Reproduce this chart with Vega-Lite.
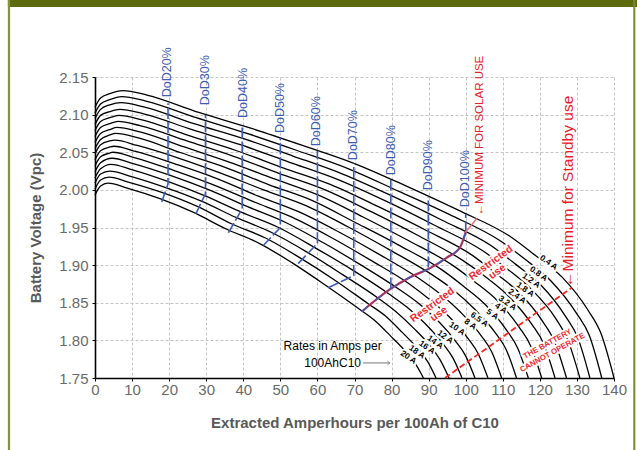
{
  "$schema": "https://vega.github.io/schema/vega-lite/v6.json",
  "width": 519,
  "height": 301,
  "autosize": "none",
  "padding": {"left": 95, "top": 77, "right": 23, "bottom": 72},
  "background": "white",
  "config": {"view": {"stroke": null}, "font": "Liberation Sans"},
  "datasets": {
    "frame": [
      {"part":"top","x":-23.5,"x2":146.2,"v":2.2523,"v2":2.243},
      {"part":"left","x":-23.5,"x2":-22.9,"v":2.2523,"v2":1.6543},
      {"part":"right","x":145.2,"x2":145.75,"v":2.2523,"v2":1.6543}
    ],
    "curves": [
      {"c":"0.4","x":0,"v":2.110},{"c":"0.4","x":1.5,"v":2.122},{"c":"0.4","x":4,"v":2.128},{"c":"0.4","x":7.5,"v":2.132},{"c":"0.4","x":14,"v":2.126},{"c":"0.4","x":28,"v":2.103},{"c":"0.4","x":42,"v":2.082},{"c":"0.4","x":56,"v":2.059},{"c":"0.4","x":70,"v":2.035},{"c":"0.4","x":84,"v":2.005},{"c":"0.4","x":98,"v":1.973},{"c":"0.4","x":112,"v":1.938},{"c":"0.4","x":119,"v":1.912},{"c":"0.4","x":126,"v":1.884},{"c":"0.4","x":133,"v":1.840},{"c":"0.4","x":136.5,"v":1.809},{"c":"0.4","x":140,"v":1.75},
      {"c":"0.8","x":0,"v":2.102},{"c":"0.8","x":1.5,"v":2.114},{"c":"0.8","x":4,"v":2.120},{"c":"0.8","x":7.2,"v":2.124},{"c":"0.8","x":13.7,"v":2.118},{"c":"0.8","x":27.3,"v":2.096},{"c":"0.8","x":41,"v":2.075},{"c":"0.8","x":54.7,"v":2.052},{"c":"0.8","x":68.4,"v":2.028},{"c":"0.8","x":82,"v":1.998},{"c":"0.8","x":95.7,"v":1.967},{"c":"0.8","x":109.4,"v":1.932},{"c":"0.8","x":116.2,"v":1.907},{"c":"0.8","x":123,"v":1.879},{"c":"0.8","x":129.9,"v":1.836},{"c":"0.8","x":133.3,"v":1.807},{"c":"0.8","x":136.7,"v":1.75},
      {"c":"1.2","x":0,"v":2.095},{"c":"1.2","x":1.5,"v":2.107},{"c":"1.2","x":4,"v":2.113},{"c":"1.2","x":7,"v":2.116},{"c":"1.2","x":13.4,"v":2.110},{"c":"1.2","x":26.7,"v":2.088},{"c":"1.2","x":40.1,"v":2.068},{"c":"1.2","x":53.4,"v":2.045},{"c":"1.2","x":66.8,"v":2.021},{"c":"1.2","x":80.1,"v":1.992},{"c":"1.2","x":93.5,"v":1.960},{"c":"1.2","x":106.8,"v":1.926},{"c":"1.2","x":113.5,"v":1.901},{"c":"1.2","x":120.2,"v":1.874},{"c":"1.2","x":126.8,"v":1.833},{"c":"1.2","x":130.2,"v":1.804},{"c":"1.2","x":133.5,"v":1.75},
      {"c":"1.8","x":0,"v":2.087},{"c":"1.8","x":1.5,"v":2.099},{"c":"1.8","x":4,"v":2.104},{"c":"1.8","x":6.7,"v":2.107},{"c":"1.8","x":13.1,"v":2.101},{"c":"1.8","x":26.2,"v":2.080},{"c":"1.8","x":39.2,"v":2.060},{"c":"1.8","x":52.3,"v":2.037},{"c":"1.8","x":65.4,"v":2.014},{"c":"1.8","x":78.5,"v":1.985},{"c":"1.8","x":91.6,"v":1.953},{"c":"1.8","x":104.6,"v":1.919},{"c":"1.8","x":111.2,"v":1.895},{"c":"1.8","x":117.7,"v":1.868},{"c":"1.8","x":124.3,"v":1.829},{"c":"1.8","x":127.5,"v":1.801},{"c":"1.8","x":130.8,"v":1.75},
      {"c":"2.4","x":0,"v":2.079},{"c":"2.4","x":1.5,"v":2.091},{"c":"2.4","x":4,"v":2.096},{"c":"2.4","x":6.4,"v":2.099},{"c":"2.4","x":12.7,"v":2.093},{"c":"2.4","x":25.4,"v":2.072},{"c":"2.4","x":38.2,"v":2.052},{"c":"2.4","x":50.9,"v":2.029},{"c":"2.4","x":63.6,"v":2.007},{"c":"2.4","x":76.3,"v":1.978},{"c":"2.4","x":89,"v":1.947},{"c":"2.4","x":101.8,"v":1.913},{"c":"2.4","x":108.1,"v":1.889},{"c":"2.4","x":114.5,"v":1.863},{"c":"2.4","x":120.8,"v":1.825},{"c":"2.4","x":124,"v":1.798},{"c":"2.4","x":127.2,"v":1.75},
      {"c":"3.2","x":0,"v":2.071},{"c":"3.2","x":1.5,"v":2.083},{"c":"3.2","x":4,"v":2.088},{"c":"3.2","x":6.2,"v":2.091},{"c":"3.2","x":12.4,"v":2.085},{"c":"3.2","x":24.8,"v":2.065},{"c":"3.2","x":37.2,"v":2.045},{"c":"3.2","x":49.6,"v":2.022},{"c":"3.2","x":62.1,"v":2.000},{"c":"3.2","x":74.5,"v":1.971},{"c":"3.2","x":86.9,"v":1.940},{"c":"3.2","x":99.3,"v":1.906},{"c":"3.2","x":105.5,"v":1.884},{"c":"3.2","x":111.7,"v":1.858},{"c":"3.2","x":117.9,"v":1.821},{"c":"3.2","x":121,"v":1.796},{"c":"3.2","x":124.1,"v":1.75},
      {"c":"4","x":0,"v":2.063},{"c":"4","x":1.5,"v":2.075},{"c":"4","x":4,"v":2.080},{"c":"4","x":5.9,"v":2.083},{"c":"4","x":12.1,"v":2.077},{"c":"4","x":24.1,"v":2.057},{"c":"4","x":36.2,"v":2.037},{"c":"4","x":48.2,"v":2.015},{"c":"4","x":60.3,"v":1.993},{"c":"4","x":72.3,"v":1.964},{"c":"4","x":84.4,"v":1.933},{"c":"4","x":96.4,"v":1.900},{"c":"4","x":102.4,"v":1.878},{"c":"4","x":108.5,"v":1.853},{"c":"4","x":114.5,"v":1.817},{"c":"4","x":117.5,"v":1.793},{"c":"4","x":120.5,"v":1.75},
      {"c":"5","x":0,"v":2.055},{"c":"5","x":1.5,"v":2.067},{"c":"5","x":4,"v":2.073},{"c":"5","x":5.6,"v":2.075},{"c":"5","x":11.7,"v":2.069},{"c":"5","x":23.4,"v":2.049},{"c":"5","x":35.1,"v":2.030},{"c":"5","x":46.8,"v":2.007},{"c":"5","x":58.5,"v":1.986},{"c":"5","x":70.1,"v":1.957},{"c":"5","x":81.8,"v":1.927},{"c":"5","x":93.5,"v":1.894},{"c":"5","x":99.4,"v":1.872},{"c":"5","x":105.2,"v":1.848},{"c":"5","x":111.1,"v":1.813},{"c":"5","x":114,"v":1.790},{"c":"5","x":116.9,"v":1.75},
      {"c":"6.5","x":0,"v":2.048},{"c":"6.5","x":1.5,"v":2.060},{"c":"6.5","x":4,"v":2.065},{"c":"6.5","x":5.4,"v":2.066},{"c":"6.5","x":11.4,"v":2.059},{"c":"6.5","x":22.7,"v":2.042},{"c":"6.5","x":34.1,"v":2.022},{"c":"6.5","x":45.5,"v":2.000},{"c":"6.5","x":56.9,"v":1.979},{"c":"6.5","x":68.2,"v":1.951},{"c":"6.5","x":79.6,"v":1.920},{"c":"6.5","x":91,"v":1.887},{"c":"6.5","x":96.7,"v":1.867},{"c":"6.5","x":102.3,"v":1.842},{"c":"6.5","x":108,"v":1.810},{"c":"6.5","x":110.9,"v":1.788},{"c":"6.5","x":113.7,"v":1.75},
      {"c":"8","x":0,"v":2.040},{"c":"8","x":1.5,"v":2.052},{"c":"8","x":4,"v":2.057},{"c":"8","x":5.1,"v":2.058},{"c":"8","x":11,"v":2.051},{"c":"8","x":21.9,"v":2.034},{"c":"8","x":32.9,"v":2.015},{"c":"8","x":43.9,"v":1.992},{"c":"8","x":54.9,"v":1.971},{"c":"8","x":65.8,"v":1.944},{"c":"8","x":76.8,"v":1.914},{"c":"8","x":87.8,"v":1.881},{"c":"8","x":93.3,"v":1.861},{"c":"8","x":98.7,"v":1.837},{"c":"8","x":104.2,"v":1.806},{"c":"8","x":107,"v":1.785},{"c":"8","x":109.7,"v":1.75},
      {"c":"10","x":0,"v":2.032},{"c":"10","x":1.5,"v":2.044},{"c":"10","x":4,"v":2.049},{"c":"10","x":4.8,"v":2.050},{"c":"10","x":10.6,"v":2.043},{"c":"10","x":21.2,"v":2.026},{"c":"10","x":31.8,"v":2.007},{"c":"10","x":42.4,"v":1.985},{"c":"10","x":53,"v":1.964},{"c":"10","x":63.6,"v":1.937},{"c":"10","x":74.2,"v":1.907},{"c":"10","x":84.8,"v":1.875},{"c":"10","x":90.1,"v":1.855},{"c":"10","x":95.4,"v":1.832},{"c":"10","x":100.7,"v":1.802},{"c":"10","x":103.4,"v":1.782},{"c":"10","x":106,"v":1.75},
      {"c":"12","x":0,"v":2.024},{"c":"12","x":1.5,"v":2.036},{"c":"12","x":4.6,"v":2.042},{"c":"12","x":10.3,"v":2.035},{"c":"12","x":20.5,"v":2.019},{"c":"12","x":30.8,"v":2.000},{"c":"12","x":41,"v":1.978},{"c":"12","x":51.3,"v":1.957},{"c":"12","x":61.5,"v":1.930},{"c":"12","x":71.8,"v":1.900},{"c":"12","x":82,"v":1.868},{"c":"12","x":87.1,"v":1.850},{"c":"12","x":92.3,"v":1.827},{"c":"12","x":97.4,"v":1.798},{"c":"12","x":99.9,"v":1.780},{"c":"12","x":102.5,"v":1.75},
      {"c":"14","x":0,"v":2.016},{"c":"14","x":1.5,"v":2.028},{"c":"14","x":4.3,"v":2.034},{"c":"14","x":9.9,"v":2.027},{"c":"14","x":19.8,"v":2.011},{"c":"14","x":29.7,"v":1.992},{"c":"14","x":39.6,"v":1.970},{"c":"14","x":49.5,"v":1.950},{"c":"14","x":59.4,"v":1.923},{"c":"14","x":69.3,"v":1.894},{"c":"14","x":79.2,"v":1.862},{"c":"14","x":84.2,"v":1.844},{"c":"14","x":89.1,"v":1.822},{"c":"14","x":94.1,"v":1.794},{"c":"14","x":96.5,"v":1.777},{"c":"14","x":99,"v":1.75},
      {"c":"16","x":0,"v":2.009},{"c":"16","x":1.5,"v":2.021},{"c":"16","x":4,"v":2.025},{"c":"16","x":9.6,"v":2.018},{"c":"16","x":19.1,"v":2.003},{"c":"16","x":28.7,"v":1.985},{"c":"16","x":38.2,"v":1.963},{"c":"16","x":47.8,"v":1.943},{"c":"16","x":57.3,"v":1.917},{"c":"16","x":66.9,"v":1.887},{"c":"16","x":76.4,"v":1.856},{"c":"16","x":81.2,"v":1.838},{"c":"16","x":86,"v":1.816},{"c":"16","x":90.7,"v":1.791},{"c":"16","x":93.1,"v":1.774},{"c":"16","x":95.5,"v":1.75},
      {"c":"18","x":0,"v":2.001},{"c":"18","x":1.5,"v":2.013},{"c":"18","x":3.8,"v":2.017},{"c":"18","x":9.2,"v":2.010},{"c":"18","x":18.4,"v":1.996},{"c":"18","x":27.6,"v":1.978},{"c":"18","x":36.8,"v":1.955},{"c":"18","x":46,"v":1.936},{"c":"18","x":55.2,"v":1.910},{"c":"18","x":64.4,"v":1.881},{"c":"18","x":73.6,"v":1.849},{"c":"18","x":78.2,"v":1.833},{"c":"18","x":82.8,"v":1.811},{"c":"18","x":87.4,"v":1.787},{"c":"18","x":89.7,"v":1.772},{"c":"18","x":92,"v":1.75},
      {"c":"20","x":0,"v":1.993},{"c":"20","x":1.5,"v":2.005},{"c":"20","x":3.5,"v":2.009},{"c":"20","x":8.9,"v":2.002},{"c":"20","x":17.7,"v":1.988},{"c":"20","x":26.6,"v":1.970},{"c":"20","x":35.4,"v":1.948},{"c":"20","x":44.3,"v":1.929},{"c":"20","x":53.2,"v":1.903},{"c":"20","x":62,"v":1.874},{"c":"20","x":70.9,"v":1.843},{"c":"20","x":75.3,"v":1.827},{"c":"20","x":79.7,"v":1.806},{"c":"20","x":84.2,"v":1.783},{"c":"20","x":86.4,"v":1.769},{"c":"20","x":88.6,"v":1.75}
    ],
    "dod": [
      {"d":"20","o":1,"x":18.0,"v":1.984},{"d":"20","o":2,"x":19.7,"v":2.008},{"d":"20","o":3,"x":19.7,"v":2.115},
      {"d":"30","o":1,"x":27.2,"v":1.968},{"d":"30","o":2,"x":29.8,"v":1.995},{"d":"30","o":3,"x":29.8,"v":2.100},
      {"d":"40","o":1,"x":36.0,"v":1.943},{"d":"40","o":2,"x":39.7,"v":1.975},{"d":"40","o":3,"x":39.7,"v":2.085},
      {"d":"50","o":1,"x":45.4,"v":1.926},{"d":"50","o":2,"x":50,"v":1.950},{"d":"50","o":3,"x":50,"v":2.069},
      {"d":"60","o":1,"x":54.8,"v":1.902},{"d":"60","o":2,"x":60,"v":1.929},{"d":"60","o":3,"x":60,"v":2.052},
      {"d":"70","o":1,"x":62.9,"v":1.870},{"d":"70","o":2,"x":69.8,"v":1.886},{"d":"70","o":3,"x":69.8,"v":2.035},
      {"d":"80","o":1,"x":79.8,"v":1.869},{"d":"80","o":2,"x":79.8,"v":2.013},
      {"d":"90","o":1,"x":89.9,"v":1.897},{"d":"90","o":2,"x":89.9,"v":1.991},
      {"d":"100","o":1,"x":100,"v":1.944},{"d":"100","o":2,"x":100,"v":1.968}
    ],
    "restricted": [
      {"x":71.9,"v":1.838},{"x":79.6,"v":1.868},{"x":85,"v":1.884},{"x":90.4,"v":1.896},{"x":94.9,"v":1.910},{"x":98.5,"v":1.924},{"x":100,"v":1.944}
    ],
    "solarlink": [{"x":100,"v":1.944},{"x":103,"v":1.962}],
    "cutoff": [{"x":94.4,"v":1.75},{"x":128.6,"v":1.870}],
    "dodlabels": [
      {"t":"DoD20%","x":19.5,"v":2.123},{"t":"DoD30%","x":29.7,"v":2.1125},{"t":"DoD40%","x":39.8,"v":2.0955},
      {"t":"DoD50%","x":49.9,"v":2.0755},{"t":"DoD60%","x":59.6,"v":2.058},{"t":"DoD70%","x":69.7,"v":2.0395},
      {"t":"DoD80%","x":79.8,"v":2.0195},{"t":"DoD90%","x":89.9,"v":1.9995},{"t":"DoD100%","x":99.7,"v":1.977}
    ],
    "amplabels": [
      {"t":"0.4 A","x":122.3,"v":1.903},{"t":"0.8 A","x":119.6,"v":1.888},{"t":"1.2 A","x":117.6,"v":1.879},
      {"t":"1.8 A","x":116.0,"v":1.867},{"t":"2.4 A","x":113.8,"v":1.858},{"t":"3.2 A","x":111.2,"v":1.849},
      {"t":"4 A","x":109.4,"v":1.842},{"t":"5 A","x":107.1,"v":1.834},{"t":"6.5 A","x":103.6,"v":1.827},
      {"t":"8 A","x":101.2,"v":1.821},{"t":"10 A","x":97.6,"v":1.815},{"t":"12 A","x":94.4,"v":1.804},
      {"t":"14 A","x":91.7,"v":1.797},{"t":"16 A","x":89.5,"v":1.790},{"t":"18 A","x":86.8,"v":1.784},
      {"t":"20 A","x":84.5,"v":1.777}
    ],
    "solar": [{"t":"←MINIMUM FOR SOLAR USE","x":103.9,"v":1.966}],
    "standby": [{"t":"←Minimum for Standby use","x":127.6,"v":1.871}],
    "restrictedtext": [{"t":"Restricted\nuse","x":106.8,"v":1.903},{"t":"Restricted\nuse","x":91.0,"v":1.847}],
    "battery": [{"t":"THE BATTERY\nCANNOT OPERATE","x":122.1,"v":1.795}],
    "rates": [{"t":"Rates in Amps per\n100AhC10","x":64.1,"v":1.7925}],
    "ratesarrow": [{"x":72.3,"x2":79.6,"v":1.770}],
    "ratestip": [{"x":79.6,"v":1.770}]
  },
  "encoding": {
    "x": {
      "field": "x", "type": "quantitative",
      "scale": {"domain": [0, 140], "nice": false, "zero": false},
      "axis": {
        "title": "Extracted Amperhours per 100Ah of C10",
        "values": [0, 10, 20, 30, 40, 50, 60, 70, 80, 90, 100, 110, 120, 130, 140],
        "grid": true, "gridColor": "#c4c4c4", "gridDash": [3, 2], "gridWidth": 1,
        "domainColor": "black", "domainWidth": 1.6,
        "tickColor": "black", "tickSize": 3,
        "labelFont": "Liberation Sans", "labelFontSize": 15, "labelColor": "#6a6a6a",
        "labelPadding": 1, "labelFlush": false, "labelOverlap": false,
        "titleFont": "Liberation Sans", "titleFontSize": 15, "titleFontWeight": "bold",
        "titleColor": "#595959", "titlePadding": 18
      }
    },
    "y": {
      "field": "v", "type": "quantitative",
      "scale": {"domain": [1.75, 2.15], "nice": false, "zero": false},
      "axis": {
        "title": "Battery Voltage (Vpc)",
        "values": [1.75, 1.8, 1.85, 1.9, 1.95, 2.0, 2.05, 2.1, 2.15],
        "format": ".2f",
        "grid": true, "gridColor": "#c4c4c4", "gridDash": [3, 2], "gridWidth": 1,
        "domainColor": "black", "domainWidth": 1.6,
        "tickColor": "black", "tickSize": 3,
        "labelFont": "Liberation Sans", "labelFontSize": 15, "labelColor": "#6a6a6a",
        "labelPadding": 4, "labelFlush": false, "labelOverlap": false,
        "titleFont": "Liberation Sans", "titleFontSize": 15, "titleFontWeight": "bold",
        "titleColor": "#595959", "titlePadding": 15
      }
    }
  },
  "layer": [
    {
      "data": {"name": "curves"},
      "mark": {"type": "line", "color": "black", "strokeWidth": 1.3, "interpolate": "monotone"},
      "encoding": {"detail": {"field": "c"}}
    },
    {
      "data": {"name": "frame"},
      "mark": {"type": "rect", "clip": false},
      "encoding": {
        "x2": {"field": "x2"}, "y2": {"field": "v2"},
        "color": {"field": "part", "type": "nominal", "legend": null,
                  "scale": {"domain": ["top", "left", "right"], "range": ["#5e6a0e", "#85933a", "#7c8a2f"]}}
      }
    },
    {
      "data": {"name": "dod"},
      "mark": {"type": "line", "color": "#3d5cb4", "strokeWidth": 1.6, "strokeDash": [11, 3]},
      "encoding": {"detail": {"field": "d"}, "order": {"field": "o"}}
    },
    {
      "data": {"name": "restricted"},
      "mark": {"type": "line", "color": "#a8305e", "strokeWidth": 2.2, "interpolate": "monotone"},
      "encoding": {}
    },
    {
      "data": {"name": "restricted"},
      "mark": {"type": "line", "color": "#3d5cb4", "strokeWidth": 1.4, "strokeDash": [8, 10], "interpolate": "monotone"},
      "encoding": {}
    },
    {
      "data": {"name": "solarlink"},
      "mark": {"type": "line", "color": "#f0707c", "strokeWidth": 1.5},
      "encoding": {}
    },
    {
      "data": {"name": "cutoff"},
      "mark": {"type": "line", "color": "#ff2424", "strokeWidth": 1.8, "strokeDash": [6, 3]},
      "encoding": {}
    },
    {
      "data": {"name": "amplabels"},
      "mark": {"type": "text", "font": "Liberation Sans", "fontWeight": "bold", "fontSize": 8.3, "angle": 35,
               "fill": "white", "stroke": "white", "strokeWidth": 4, "strokeJoin": "round"},
      "encoding": {"text": {"field": "t"}}
    },
    {
      "data": {"name": "amplabels"},
      "mark": {"type": "text", "font": "Liberation Sans", "fontWeight": "bold", "fontSize": 8.3, "angle": 35, "color": "black"},
      "encoding": {"text": {"field": "t"}}
    },
    {
      "data": {"name": "dodlabels"},
      "mark": {"type": "text", "font": "Liberation Sans", "fontSize": 12.5, "angle": 270, "align": "left", "baseline": "middle", "color": "#3d5cb4"},
      "encoding": {"text": {"field": "t"}}
    },
    {
      "data": {"name": "solar"},
      "mark": {"type": "text", "font": "Liberation Sans", "fontSize": 11.5, "angle": 270, "align": "left", "baseline": "middle", "color": "#e8202a"},
      "encoding": {"text": {"field": "t"}}
    },
    {
      "data": {"name": "standby"},
      "mark": {"type": "text", "font": "Liberation Sans", "fontSize": 15.5, "angle": 270, "align": "left", "baseline": "middle", "color": "#e8202a"},
      "encoding": {"text": {"field": "t"}}
    },
    {
      "data": {"name": "restrictedtext"},
      "mark": {"type": "text", "font": "Liberation Sans", "fontWeight": "bold", "fontSize": 10.5, "angle": -36,
               "align": "center", "baseline": "middle", "lineBreak": "\n", "lineHeight": 11,
               "fill": "white", "stroke": "white", "strokeWidth": 4, "strokeJoin": "round"},
      "encoding": {"text": {"field": "t"}}
    },
    {
      "data": {"name": "restrictedtext"},
      "mark": {"type": "text", "font": "Liberation Sans", "fontWeight": "bold", "fontSize": 10.5, "angle": -36,
               "align": "center", "baseline": "middle", "lineBreak": "\n", "lineHeight": 11, "color": "#f0282d"},
      "encoding": {"text": {"field": "t"}}
    },
    {
      "data": {"name": "battery"},
      "mark": {"type": "text", "font": "Liberation Sans", "fontWeight": "bold", "fontSize": 7.8, "angle": -29,
               "align": "center", "baseline": "middle", "lineBreak": "\n", "lineHeight": 10,
               "fill": "white", "stroke": "white", "strokeWidth": 4, "strokeJoin": "round"},
      "encoding": {"text": {"field": "t"}}
    },
    {
      "data": {"name": "battery"},
      "mark": {"type": "text", "font": "Liberation Sans", "fontWeight": "bold", "fontSize": 7.8, "angle": -29,
               "align": "center", "baseline": "middle", "lineBreak": "\n", "lineHeight": 10, "color": "#f0282d"},
      "encoding": {"text": {"field": "t"}}
    },
    {
      "data": {"name": "rates"},
      "mark": {"type": "text", "font": "Liberation Sans", "fontSize": 12, "align": "center", "baseline": "middle",
               "lineBreak": "\n", "lineHeight": 17, "color": "black"},
      "encoding": {"text": {"field": "t"}}
    },
    {
      "data": {"name": "ratesarrow"},
      "mark": {"type": "rule", "color": "#777777", "strokeWidth": 1},
      "encoding": {"x2": {"field": "x2"}}
    },
    {
      "data": {"name": "ratestip"},
      "mark": {"type": "point", "shape": "M-1,-0.7L0,0L-1,0.7", "filled": false, "color": "#777777", "strokeWidth": 1, "size": 30},
      "encoding": {}
    }
  ]
}
